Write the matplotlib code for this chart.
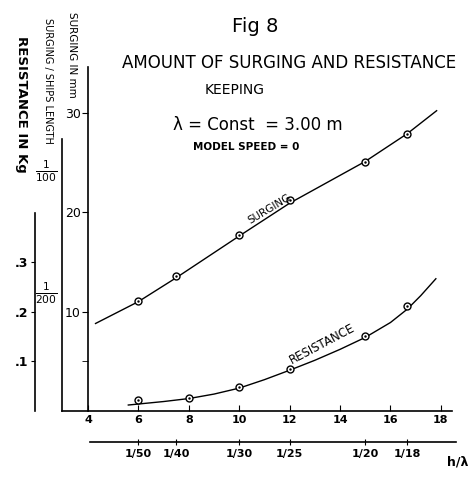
import matplotlib
matplotlib.use("Agg")
import matplotlib.pyplot as plt

# wave height (cm) at which each run was made, and the measured values
surging_x = [6, 7.5, 10, 12, 15, 16.67]
surging_mm = [11.1, 13.6, 17.7, 21.2, 25.0, 27.9]
resist_x = [6, 8, 10, 12, 15, 16.67]
resist_kg = [0.022, 0.026, 0.049, 0.085, 0.150, 0.211]

# faired curves drawn through the points
surging_curve_x = [4.3, 6, 7.5, 10, 12, 15, 16.67, 17.83]
surging_curve_y = [8.8, 11.0, 13.4, 17.6, 20.9, 25.1, 27.9, 30.2]
resist_curve_x = [5.6, 6, 7, 8, 9, 10, 11, 12, 13, 14, 15, 16, 16.67, 17.2, 17.8]
resist_curve_y = [0.012, 0.014, 0.019, 0.025, 0.034, 0.046, 0.063, 0.082,
                  0.102, 0.124, 0.148, 0.178, 0.205, 0.232, 0.266]

x_ticks = [4, 6, 8, 10, 12, 14, 16, 18]
ratio_ticks = [6, 7.5, 10, 12, 15, 300 / 18]
ratio_labels = ["1/50", "1/40", "1/30", "1/25", "1/20", "1/18"]
surging_ticks = [10, 20, 30]
resist_ticks = [0.1, 0.2, 0.3]
resist_labels = [".1", ".2", ".3"]
ship_len_mm = 2450
len_ticks = [1 / 200, 1 / 100]
len_labels = [r"$\frac{1}{200}$", r"$\frac{1}{100}$"]

s_top = 34.6

fig = plt.figure(figsize=(4.73, 4.79), dpi=100)
ax = fig.add_axes([0.1311, 0.1420, 0.8245, 0.7182])
ax.set_xlim(2.97, 18.44)
ax.set_ylim(0, s_top)

for side in ["top", "right"]:
    ax.spines[side].set_visible(False)
ax.spines["left"].set_position(("data", 4))
ax.spines["left"].set_linewidth(1.2)
ax.spines["bottom"].set_linewidth(1.2)
ax.set_xticks(x_ticks)
ax.set_xticklabels([str(t) for t in x_ticks], fontsize=8, fontweight="bold")
ax.tick_params(axis="x", direction="in", length=4, pad=3)
ax.set_yticks(surging_ticks)
ax.set_yticks([5], minor=True)
ax.set_yticklabels([str(t) for t in surging_ticks], fontsize=9)
ax.tick_params(axis="y", which="both", direction="out", length=4, pad=1)

# surging / ship length scale on the edge of the frame
ax2 = ax.twinx()
ax2.set_ylim(0, s_top / ship_len_mm)
for side in ["top", "right", "bottom"]:
    ax2.spines[side].set_visible(False)
ax2.spines["left"].set_visible(True)
ax2.spines["left"].set_position(("axes", 0))
ax2.spines["left"].set_bounds(0, 27.4 / ship_len_mm)
ax2.spines["left"].set_linewidth(1.2)
ax2.yaxis.set_ticks_position("left")
ax2.set_yticks(len_ticks)
ax2.set_yticklabels(len_labels, fontsize=11)
ax2.tick_params(axis="y", length=0, pad=3)

# resistance scale further out
ax3 = ax.twinx()
ax3.set_ylim(0, s_top / 50)
for side in ["top", "right", "bottom"]:
    ax3.spines[side].set_visible(False)
ax3.spines["left"].set_visible(True)
ax3.spines["left"].set_position(("axes", -0.069))
ax3.spines["left"].set_bounds(0, 0.398)
ax3.spines["left"].set_linewidth(1.2)
ax3.yaxis.set_ticks_position("left")
ax3.set_yticks(resist_ticks)
ax3.set_yticklabels(resist_labels, fontsize=9, fontweight="bold")
ax3.tick_params(axis="y", direction="out", length=3, pad=2)

# h / lambda scale under the main axis
sec = ax.secondary_xaxis(-0.09)
sec.spines["bottom"].set_bounds(4.1, 18.6)
sec.spines["bottom"].set_linewidth(1.2)
sec.set_xticks(ratio_ticks)
sec.set_xticklabels(ratio_labels, fontsize=8, fontweight="bold")
sec.tick_params(axis="x", direction="inout", length=4, pad=3)

# curves and measured points
ax.plot(surging_curve_x, surging_curve_y, color="black", lw=1.0)
ax.plot(surging_x, surging_mm, "o", ms=5, mfc="white", mec="black", mew=1.0)
ax.plot(surging_x, surging_mm, ".", ms=1.5, color="black")
ax3.plot(resist_curve_x, resist_curve_y, color="black", lw=1.0)
ax3.plot(resist_x, resist_kg, "o", ms=5, mfc="white", mec="black", mew=1.0)
ax3.plot(resist_x, resist_kg, ".", ms=1.5, color="black")

ax.text(11.2, 20.3, "SURGING", rotation=31, fontsize=7.5,
        ha="center", va="center")
ax3.text(13.3, 0.135, "RESISTANCE", rotation=28, fontsize=8.5,
         ha="center", va="center")

# titles
fig.text(0.539, 0.944, "Fig 8", fontsize=14, ha="center", va="center")
fig.text(0.611, 0.868, "AMOUNT OF SURGING AND RESISTANCE", fontsize=12,
         ha="center", va="center")
fig.text(0.495, 0.812, "KEEPING", fontsize=10, ha="center", va="center")
fig.text(0.545, 0.739, "λ = Const  = 3.00 m", fontsize=12,
         ha="center", va="center")
fig.text(0.520, 0.693, "MODEL SPEED = 0", fontsize=7.5, fontweight="bold",
         ha="center", va="center")

# axis captions
fig.text(0.152, 0.885, "SURGING IN mm", rotation=-90, fontsize=7.5,
         ha="center", va="center")
fig.text(0.101, 0.830, "SURGING / SHIPS LENGTH", rotation=-90, fontsize=7,
         ha="center", va="center")
fig.text(0.046, 0.782, "RESISTANCE IN Kg", rotation=-90, fontsize=9.5,
         fontweight="bold", ha="center", va="center")
fig.text(0.968, 0.035, "h/λ", fontsize=9, fontweight="bold",
         ha="center", va="center")

fig.savefig("out.png", dpi=100)
